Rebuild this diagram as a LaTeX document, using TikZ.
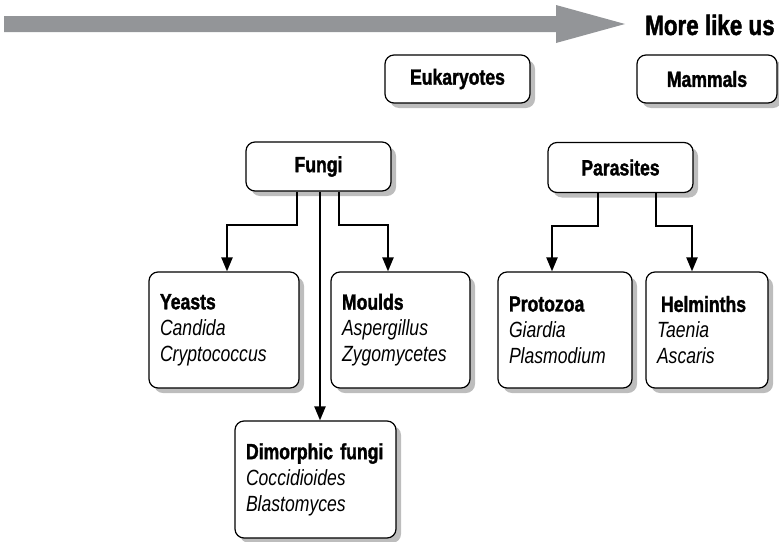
\documentclass[tikz,border=0pt]{standalone}
\usepackage{fontspec}
\setmainfont[FakeStretch=0.8, BoldFeatures={FakeBold=1.5}]{Liberation Sans}
\usetikzlibrary{arrows.meta}
\definecolor{arrowgray}{HTML}{939598}
\definecolor{shadowgray}{HTML}{BDBDBD}
\tikzset{
  box/.style={draw=black, line width=1.2pt, rounded corners=9pt, fill=white,
    font=\fontsize{22}{26}\selectfont\bfseries, inner sep=0pt},
  smallbox/.style={box, minimum height=48pt, align=center},
  bigbox/.style={box, inner xsep=11pt, align=left, font=\fontsize{22}{26}\selectfont},
  shadowbox/.style={fill=shadowgray, rounded corners=9pt},
  conn/.style={draw=black, line width=2.2pt, -{Triangle[length=14pt,width=11pt]}}
}
\begin{document}
\begin{tikzpicture}[x=1pt,y=-1pt]
\useasboundingbox (0,0) rectangle (779,541);
% direction arrow
\fill[arrowgray] (4,16) -- (556,16) -- (556,5) -- (625,24) -- (556,43) -- (556,32) -- (4,32) -- cycle;
\node[anchor=base west, inner sep=0pt, font=\fontsize{28}{30}\selectfont\bfseries] (more) at (645,35) {More like us};
% shadows (offset 5 right, 5 down)
\fill[shadowbox] (390,60) rectangle (535,108);
\fill[shadowbox] (642,60) rectangle (782,108);
\fill[shadowbox] (251,147) rectangle (396,196);
\fill[shadowbox] (553,147.5) rectangle (698,197.5);
\fill[shadowbox] (154,277) rectangle (304,393);
\fill[shadowbox] (336,277) rectangle (475,393);
\fill[shadowbox] (503,277) rectangle (637,393);
\fill[shadowbox] (651,277) rectangle (773,393);
\fill[shadowbox] (240,426) rectangle (401,543);
% top row
\node[smallbox, minimum width=145pt] (euk) at (457.5,79) {Eukaryotes};
\node[smallbox, minimum width=140pt] (mam) at (707,79) {Mammals};
% second row
\node[smallbox, minimum width=145pt, minimum height=49pt] (fungi) at (318.5,166.5) {Fungi};
\node[smallbox, minimum width=145pt, minimum height=50pt] (para) at (620.5,167.5) {Parasites};
% third row
\node[bigbox, text width=128pt, minimum height=116pt] (yeasts) at (224,330)
  {\textbf{Yeasts}\\\textit{Candida}\\\textit{Cryptococcus}};
\node[bigbox, text width=117pt, minimum height=116pt] (moulds) at (400.5,330)
  {\textbf{Moulds}\\\textit{Aspergillus}\\\textit{Zygomycetes}};
\node[bigbox, text width=112pt, minimum height=116pt] (proto) at (565,330)
  {\textbf{Protozoa}\\\textit{Giardia}\\\textit{Plasmodium}};
\node[bigbox, text width=100pt, minimum height=116pt] (helm) at (707,330)
  {\textbf{\hspace{4pt}Helminths}\\\textit{Taenia}\\\textit{Ascaris}};
\node[bigbox, text width=139pt, minimum height=117pt] (dimo) at (315.5,479.5)
  {\textbf{Dimorphic fungi}\\\textit{Coccidioides}\\\textit{Blastomyces}};
% connectors
\draw[conn] ([xshift=-21.5pt]fungi.south) -- ++(0,33) -| ([xshift=3pt]yeasts.north);
\draw[conn] ([xshift=20.5pt]fungi.south) -- ++(0,33) -| ([xshift=-12.5pt]moulds.north);
\draw[conn] ([xshift=1.5pt]fungi.south) -- ([xshift=4.5pt]dimo.north);
\draw[conn] ([xshift=-22.5pt]para.south) -- ++(0,33) -| ([xshift=-13pt]proto.north);
\draw[conn] ([xshift=35.5pt]para.south) -- ++(0,33) -| ([xshift=-15pt]helm.north);
\end{tikzpicture}
\end{document}
